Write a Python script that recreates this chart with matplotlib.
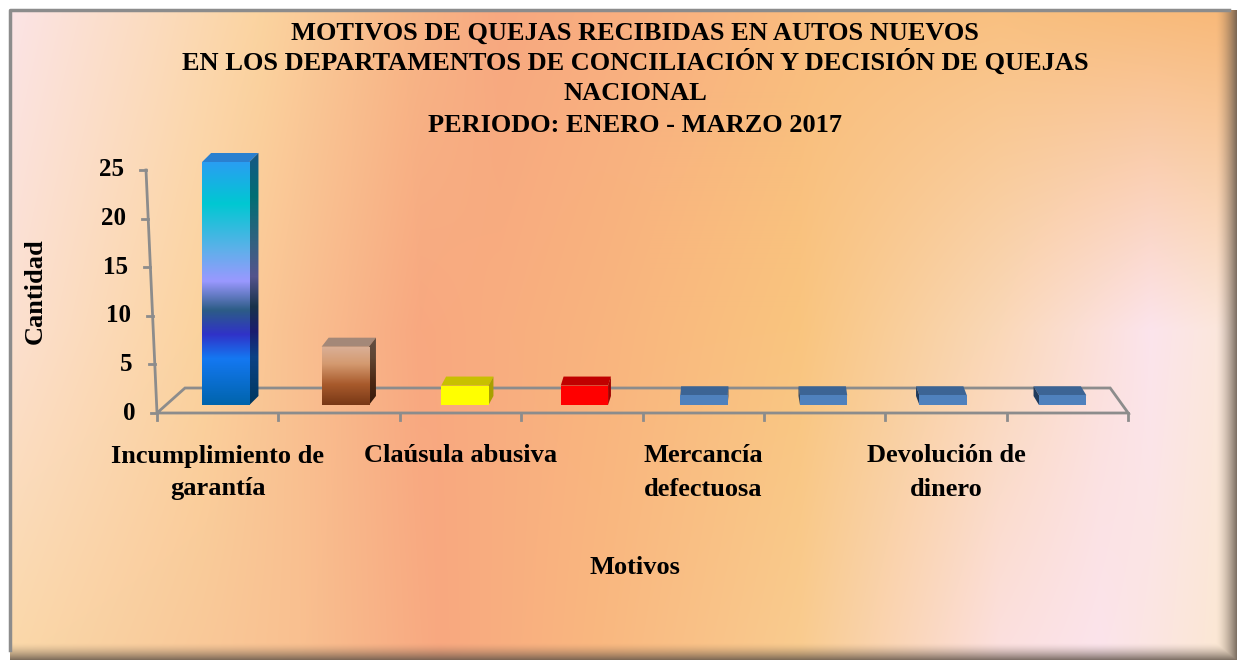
import numpy as np
import matplotlib
matplotlib.use('Agg')
import matplotlib.pyplot as plt
from matplotlib.patches import Polygon
from matplotlib.colors import LinearSegmentedColormap, to_rgb

# --- DATA ---
TITLE_LINES = [
    'MOTIVOS DE QUEJAS RECIBIDAS EN AUTOS NUEVOS',
    'EN LOS DEPARTAMENTOS DE CONCILIACIÓN Y DECISIÓN DE QUEJAS',
    'NACIONAL',
    'PERIODO: ENERO - MARZO 2017',
]
# only every other category label is shown in the chart
CATEGORIES = ['Incumplimiento de\ngarantía', '', 'Claúsula abusiva', '',
              'Mercancía\ndefectuosa', '', 'Devolución de\ndinero', '']
VALUES = [25, 6, 2, 2, 1, 1, 1, 1]
Y_TICKS = [0, 5, 10, 15, 20, 25]
X_LABEL = 'Motivos'
Y_LABEL = 'Cantidad'

# --- STYLE ---
FONT = 'Liberation Serif'
W, H = 1237, 660
PX_CAT, PX_VAL = 121.4, 9.72      # pixels per category / per unit
X0, Y0 = 157, 413                  # pixel of the front-left floor corner
VP = (748 - X0) / PX_CAT           # vanishing point (data x)
SLOPE = 28 / 591
FLOOR_PX, FRONT_PX, DEPTH_PX = 25, 8, 9
BAR_W = 0.39
GRID = '#8c8c8c'

BIG_STOPS = [(0.0, '#0064ac'), (0.19, '#1478f2'), (0.29, '#3032c8'),
             (0.39, '#2c5c86'), (0.51, '#9a98ff'), (0.64, '#5eb0ea'),
             (0.83, '#00c8d2'), (1.0, '#2a9ef2')]
BROWN_STOPS = [(0.0, '#783816'), (0.35, '#a85a2c'), (0.7, '#d49a70'),
               (1.0, '#dab098')]
FACES = [  # front, top, side
    (BIG_STOPS, '#2a80d0', 0.55),
    (BROWN_STOPS, '#a48878', 0.45),
    ('#ffff00', '#c8c000', '#a8a000'),
    ('#ff0000', '#c00000', '#a00000'),
    ('#4f81bd', '#3c6494', '#1f3a5c'),
    ('#4f81bd', '#3c6494', '#1f3a5c'),
    ('#4f81bd', '#3c6494', '#1f3a5c'),
    ('#4f81bd', '#3c6494', '#1f3a5c'),
]

BG_ROWS = [
    (10, [(10, '#fbe4e6'), (150, '#fcdcc0'), (260, '#fbd4a0'), (400, '#f8b888'),
          (500, '#f7a880'), (650, '#f9b080'), (820, '#f9bd7e'), (1000, '#f9c080'),
          (1237, '#f8b878')]),
    (330, [(10, '#fce0d0'), (200, '#fbd39e'), (420, '#f8a880'), (600, '#f9b47e'),
           (800, '#f9c57f'), (1000, '#fad8b8'), (1150, '#fce4ec'), (1237, '#fbe8d8')]),
    (660, [(10, '#fad8a8'), (300, '#f9c090'), (440, '#f8a880'), (600, '#fab880'),
           (800, '#f9cc90'), (1000, '#fce0e0'), (1100, '#fce4ec'), (1237, '#fbe8d0')]),
]
SHADOW = '#5e5248'


def depth_dx(x, dpx):
    return (VP - x) * SLOPE * dpx / FLOOR_PX


def row_colors(stops, xs):
    px = [p for p, _ in stops]
    cols = np.array([to_rgb(c) for _, c in stops])
    return np.stack([np.interp(xs, px, cols[:, k]) for k in range(3)], axis=-1)


def background_image():
    xs = np.arange(10, W)
    ys = np.arange(10, H)
    rows = [row_colors(stops, xs) for _, stops in BG_ROWS]
    ry = [y for y, _ in BG_ROWS]
    img = np.zeros((len(ys), len(xs), 3))
    for j, y in enumerate(ys):
        if y <= ry[1]:
            t = (y - ry[0]) / (ry[1] - ry[0])
            img[j] = rows[0] * (1 - t) + rows[1] * t
        else:
            t = (y - ry[1]) / (ry[2] - ry[1])
            img[j] = rows[1] * (1 - t) + rows[2] * t
    # soft inner shadow on the right and bottom edges
    sx = np.clip((xs - (W - 22)) / 22, 0, 1) ** 1.6
    sy = np.clip((ys - (H - 18)) / 18, 0, 1) ** 1.6
    a = np.maximum(sx[None, :], sy[:, None]) * 0.85
    img = img * (1 - a[..., None]) + np.array(to_rgb(SHADOW)) * a[..., None]
    return img


def gradient_fill(ax, patch, stops, extent, dark=1.0, z=3):
    cmap = LinearSegmentedColormap.from_list(
        'g', [(p, tuple(np.array(to_rgb(c)) * dark)) for p, c in stops])
    grad = np.linspace(0, 1, 256).reshape(-1, 1)
    im = ax.imshow(grad, extent=extent, origin='lower', aspect='auto',
                   cmap=cmap, zorder=z)
    im.set_clip_path(patch)


fig = plt.figure(figsize=(W / 100, H / 100), dpi=100, facecolor='white')

# panel background in pixel coordinates
bg = fig.add_axes([0, 0, 1, 1])
bg.set_xlim(0, W)
bg.set_ylim(H, 0)
bg.axis('off')
bg.imshow(background_image(), extent=[10, W, H, 10], aspect='auto', zorder=2)
bg.plot([10, 10, W - 8], [H - 10, 10, 10], color='#8c8c8c', lw=2.5, zorder=3)

for i, line in enumerate(TITLE_LINES):
    bg.text(635, [33, 62, 93, 125][i], line, ha='center', va='center',
            fontsize=19, fontweight='bold', family=FONT, zorder=5)
bg.text(635, 568, X_LABEL, ha='center', va='center', fontsize=19,
        fontweight='bold', family=FONT, zorder=5)
bg.text(35, 291, Y_LABEL, ha='center', va='center', rotation=90, fontsize=19,
        fontweight='bold', family=FONT, zorder=5)

# chart axes in data units
ax = fig.add_axes([0, 0, 1, 1])
ax.patch.set_alpha(0)
ax.axis('off')

n = len(VALUES)
dy_floor = FLOOR_PX / PX_VAL
floor = [(0, 0), (n, 0), (n + depth_dx(n, FLOOR_PX), dy_floor), (depth_dx(0, FLOOR_PX), dy_floor)]
ax.add_patch(Polygon(floor, closed=True, fill=False, ec=GRID, lw=2, zorder=1))
for i in range(n + 1):
    ax.plot([i, i], [0, -7 / PX_VAL], color=GRID, lw=2, zorder=1)

ymax = Y_TICKS[-1]
lean = -11 / PX_CAT / ymax
ax.plot([0, lean * ymax], [0, ymax], color=GRID, lw=2, zorder=1)
for t in Y_TICKS:
    xt = lean * t
    ax.plot([xt - 6 / PX_CAT, xt], [t, t], color=GRID, lw=2, zorder=1)
    ax.text(xt - 22 / PX_CAT, t, str(t), ha='right', va='center', fontsize=18,
            fontweight='bold', family=FONT)

yb = FRONT_PX / PX_VAL
ddy = DEPTH_PX / PX_VAL
for i, v in enumerate(VALUES):
    front_c, top_c, side_c = FACES[i]
    xc = i + 0.5
    fx = xc + depth_dx(xc, FRONT_PX)
    xl, xr = fx - BAR_W / 2, fx + BAR_W / 2
    yt = yb + v
    ddx = depth_dx(xc, DEPTH_PX)
    top = Polygon([(xl, yt), (xr, yt), (xr + ddx, yt + ddy), (xl + ddx, yt + ddy)],
                  closed=True, fc=top_c, ec='none', zorder=3)
    ax.add_patch(top)
    xs = xr if ddx > 0 else xl
    side = Polygon([(xs, yb), (xs + ddx, yb + ddy), (xs + ddx, yt + ddy), (xs, yt)],
                   closed=True, ec='none', zorder=3,
                   fc=side_c if isinstance(side_c, str) else 'none')
    ax.add_patch(side)
    if not isinstance(side_c, str):
        gradient_fill(ax, side, front_c, [min(xs, xs + ddx), max(xs, xs + ddx), yb, yt + ddy],
                      dark=side_c, z=3)
    if isinstance(front_c, str):
        ax.bar(fx, v, width=BAR_W, bottom=yb, color=front_c, lw=0, zorder=4)
    else:
        bar = ax.bar(fx, v, width=BAR_W, bottom=yb, color='none', lw=0, zorder=4)[0]
        gradient_fill(ax, bar, front_c, [xl, xr, yb, yt], z=4)

for i, lab in enumerate(CATEGORIES):
    for j, line in enumerate(lab.split('\n')):
        if line:
            ax.text(i + 0.5, -(456 + 33 * j - Y0) / PX_VAL, line, ha='center',
                    va='center', fontsize=19, fontweight='bold', family=FONT)

ax.set_xlim(-X0 / PX_CAT, (W - X0) / PX_CAT)
ax.set_ylim(-(H - Y0) / PX_VAL, Y0 / PX_VAL)

plt.savefig('out.png', dpi=100, facecolor='white')
